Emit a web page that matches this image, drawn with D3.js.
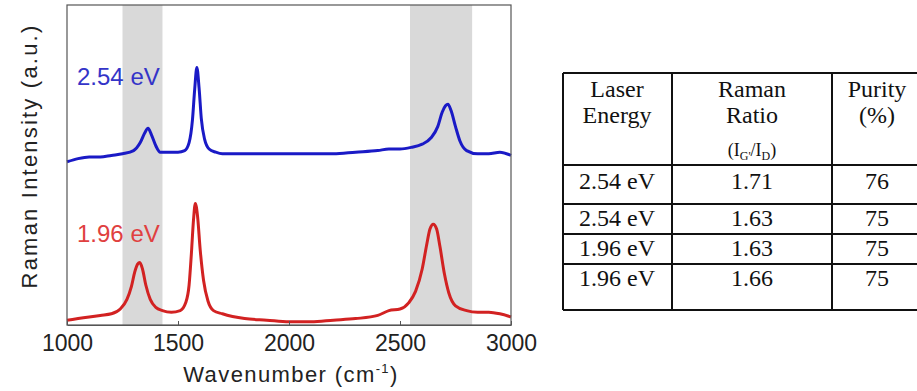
<!DOCTYPE html>
<html>
<head>
<meta charset="utf-8">
<script src="https://cdn.jsdelivr.net/npm/d3@7"></script>
<style>
  body { margin: 0; background: #fff; }
  svg { display: block; }
</style>
</head>
<body>
<div id="chart"></div>
<script>
// Spectra (wavenumber, intensity in a.u.)
const wavenumber254 = [1000, 1050, 1100, 1150, 1200, 1250, 1300, 1330, 1350, 1365, 1380, 1400, 1420, 1450, 1500, 1530, 1550, 1565, 1575, 1585, 1595, 1605, 1620, 1640, 1670, 1700, 1800, 1900, 2000, 2100, 2200, 2300, 2400, 2450, 2500, 2550, 2600, 2640, 2670, 2690, 2705, 2716, 2730, 2750, 2770, 2800, 2850, 2900, 2950, 3000];
const intensity254 = [51, 52, 52.5, 52.5, 53, 53.5, 54.5, 57, 60, 61.5, 59.5, 56, 54, 54, 54, 54.5, 57, 64, 73.5, 80.5, 74, 64.5, 58, 55, 54, 53.5, 53.5, 53.5, 53.5, 53.5, 53.5, 54, 54.5, 55, 55, 55.5, 56.5, 58.5, 62, 66.5, 68.5, 69, 67, 62, 57.5, 54.5, 53.5, 53.5, 54, 53];

const wavenumber196 = [1000, 1050, 1100, 1150, 1200, 1240, 1270, 1290, 1305, 1318, 1328, 1340, 1355, 1375, 1400, 1430, 1470, 1510, 1535, 1550, 1560, 1570, 1578, 1588, 1600, 1615, 1635, 1660, 1700, 1800, 1900, 2000, 2100, 2200, 2300, 2400, 2450, 2500, 2540, 2570, 2600, 2620, 2635, 2650, 2665, 2680, 2700, 2720, 2750, 2800, 2850, 2900, 2950, 3000];
const intensity196 = [1.5, 2, 2.5, 3, 3.5, 5, 8, 12, 16.5, 19, 19.5, 17.5, 12.5, 8, 5.5, 4.5, 4, 4.5, 7, 12.5, 22, 33, 38, 34, 23.5, 14, 7.5, 4.5, 3.5, 2, 1.5, 1, 1, 1.5, 2, 3, 4.5, 5, 7, 10.5, 17.5, 25, 30, 31.5, 30, 24.5, 16, 10, 6, 4.5, 4, 4, 3.5, 2.5];

const seriesLabels = ['2.54 eV', '1.96 eV'];
const shadeBands = [[1250, 1430], [2545, 2825]];
const xTicks = [1000, 1500, 2000, 2500, 3000];

// Table values
const tableHeader = [['Laser', 'Energy'], ['Raman', 'Ratio'], ['Purity', '(%)']];
const laserEnergy = ['2.54 eV', '2.54 eV', '1.96 eV', '1.96 eV'];
const ramanRatio = ['1.71', '1.63', '1.63', '1.66'];
const purity = ['76', '75', '75', '75'];

const W = 917, H = 391;
const plot = { left: 67, right: 511, top: 5, bottom: 325 };
const sans = '"Liberation Sans", Arial, sans-serif';

const svg = d3.select('#chart').append('svg')
    .attr('width', W)
    .attr('height', H);

const x = d3.scaleLinear().domain([1000, 3000]).range([plot.left, plot.right]);
const y = d3.scaleLinear().domain([0, 100]).range([plot.bottom, plot.top]);

// shaded regions
svg.selectAll('rect.band')
    .data(shadeBands)
    .enter()
    .append('rect')
    .attr('class', 'band')
    .attr('x', d => x(d[0]))
    .attr('y', plot.top)
    .attr('width', d => x(d[1]) - x(d[0]))
    .attr('height', plot.bottom - plot.top)
    .attr('fill', '#d9d9d9');

const line = d3.line()
    .x(d => x(d[0]))
    .y(d => y(d[1]))
    .curve(d3.curveMonotoneX);

const spectra = [
    { pts: d3.zip(wavenumber254, intensity254), color: '#1a1ac6' },
    { pts: d3.zip(wavenumber196, intensity196), color: '#d22222' }
];

svg.selectAll('path.spec')
    .data(spectra)
    .enter()
    .append('path')
    .attr('class', 'spec')
    .attr('d', d => line(d.pts))
    .attr('fill', 'none')
    .attr('stroke', d => d.color)
    .attr('stroke-width', 3)
    .attr('stroke-linejoin', 'round');

// series labels
svg.append('text')
    .attr('x', 77).attr('y', 85)
    .attr('fill', '#3434c8')
    .style('font', '24px ' + sans)
    .text(seriesLabels[0]);
svg.append('text')
    .attr('x', 77).attr('y', 242)
    .attr('fill', '#e04040')
    .style('font', '24px ' + sans)
    .text(seriesLabels[1]);

// frame
svg.append('rect')
    .attr('x', plot.left).attr('y', plot.top)
    .attr('width', plot.right - plot.left)
    .attr('height', plot.bottom - plot.top)
    .attr('fill', 'none')
    .attr('stroke', '#555')
    .attr('stroke-width', 1.2);

const xAxis = d3.axisBottom(x)
    .tickValues(xTicks)
    .tickSizeInner(-4)
    .tickSizeOuter(0)
    .tickPadding(10)
    .tickFormat(d3.format('d'));

const gx = svg.append('g')
    .attr('transform', 'translate(0,' + plot.bottom + ')')
    .call(xAxis);
gx.select('.domain').attr('stroke', '#555');
gx.selectAll('.tick line').attr('stroke', '#555');
gx.selectAll('.tick text')
    .attr('fill', '#222')
    .style('font', '23px ' + sans);

// axis titles
const xTitle = svg.append('text')
    .attr('x', (plot.left + plot.right) / 2 + 2)
    .attr('y', 382)
    .attr('text-anchor', 'middle')
    .attr('fill', '#222')
    .style('font', '22px ' + sans)
    .style('letter-spacing', '1.4px');
xTitle.append('tspan').text('Wavenumber (cm');
xTitle.append('tspan').attr('dy', -9).style('font-size', '13px').text('-1');
xTitle.append('tspan').attr('dy', 9).text(')');

svg.append('text')
    .attr('transform', 'translate(37,156) rotate(-90)')
    .attr('text-anchor', 'middle')
    .attr('fill', '#222')
    .style('font', '22px ' + sans)
    .style('letter-spacing', '2.2px')
    .text('Raman Intensity (a.u.)');

// table
const tbl = svg.append('g');
const colEdges = [563, 672, 832, 930];
const rowEdges = [73, 165, 204, 234, 264, 310];
const colCenters = [617, 752, 877];
const serif = '"Liberation Serif", "Times New Roman", serif';

tbl.selectAll('line.row')
    .data(rowEdges)
    .enter()
    .append('line')
    .attr('x1', colEdges[0]).attr('x2', colEdges[3])
    .attr('y1', d => d).attr('y2', d => d)
    .attr('stroke', '#111').attr('stroke-width', 2);
tbl.selectAll('line.col')
    .data(colEdges)
    .enter()
    .append('line')
    .attr('y1', rowEdges[0]).attr('y2', rowEdges[rowEdges.length - 1])
    .attr('x1', d => d).attr('x2', d => d)
    .attr('stroke', '#111').attr('stroke-width', 2);

tableHeader.forEach((lines, i) => {
    lines.forEach((t, j) => {
        tbl.append('text')
            .attr('x', colCenters[i])
            .attr('y', 97 + j * 26)
            .attr('text-anchor', 'middle')
            .attr('fill', '#111')
            .style('font', '24px ' + serif)
            .text(t);
    });
});
// (IG'/ID) with subscripts
const ratioSub = tbl.append('text')
    .attr('x', colCenters[1])
    .attr('y', 156)
    .attr('text-anchor', 'middle')
    .attr('fill', '#111')
    .style('font', '18px ' + serif);
ratioSub.append('tspan').text('(I');
ratioSub.append('tspan').attr('dy', 4).style('font-size', '12px').text("G'");
ratioSub.append('tspan').attr('dy', -4).text('/I');
ratioSub.append('tspan').attr('dy', 4).style('font-size', '12px').text('D');
ratioSub.append('tspan').attr('dy', -4).text(')');

const rowBase = [189, 226, 256, 286];
const rowCols = [laserEnergy, ramanRatio, purity];
rowCols.forEach((col, c) => {
    col.forEach((v, i) => {
        tbl.append('text')
            .attr('x', colCenters[c]).attr('y', rowBase[i])
            .attr('text-anchor', 'middle')
            .attr('fill', '#111')
            .style('font', '24px ' + serif)
            .text(v);
    });
});
</script>
</body>
</html>
